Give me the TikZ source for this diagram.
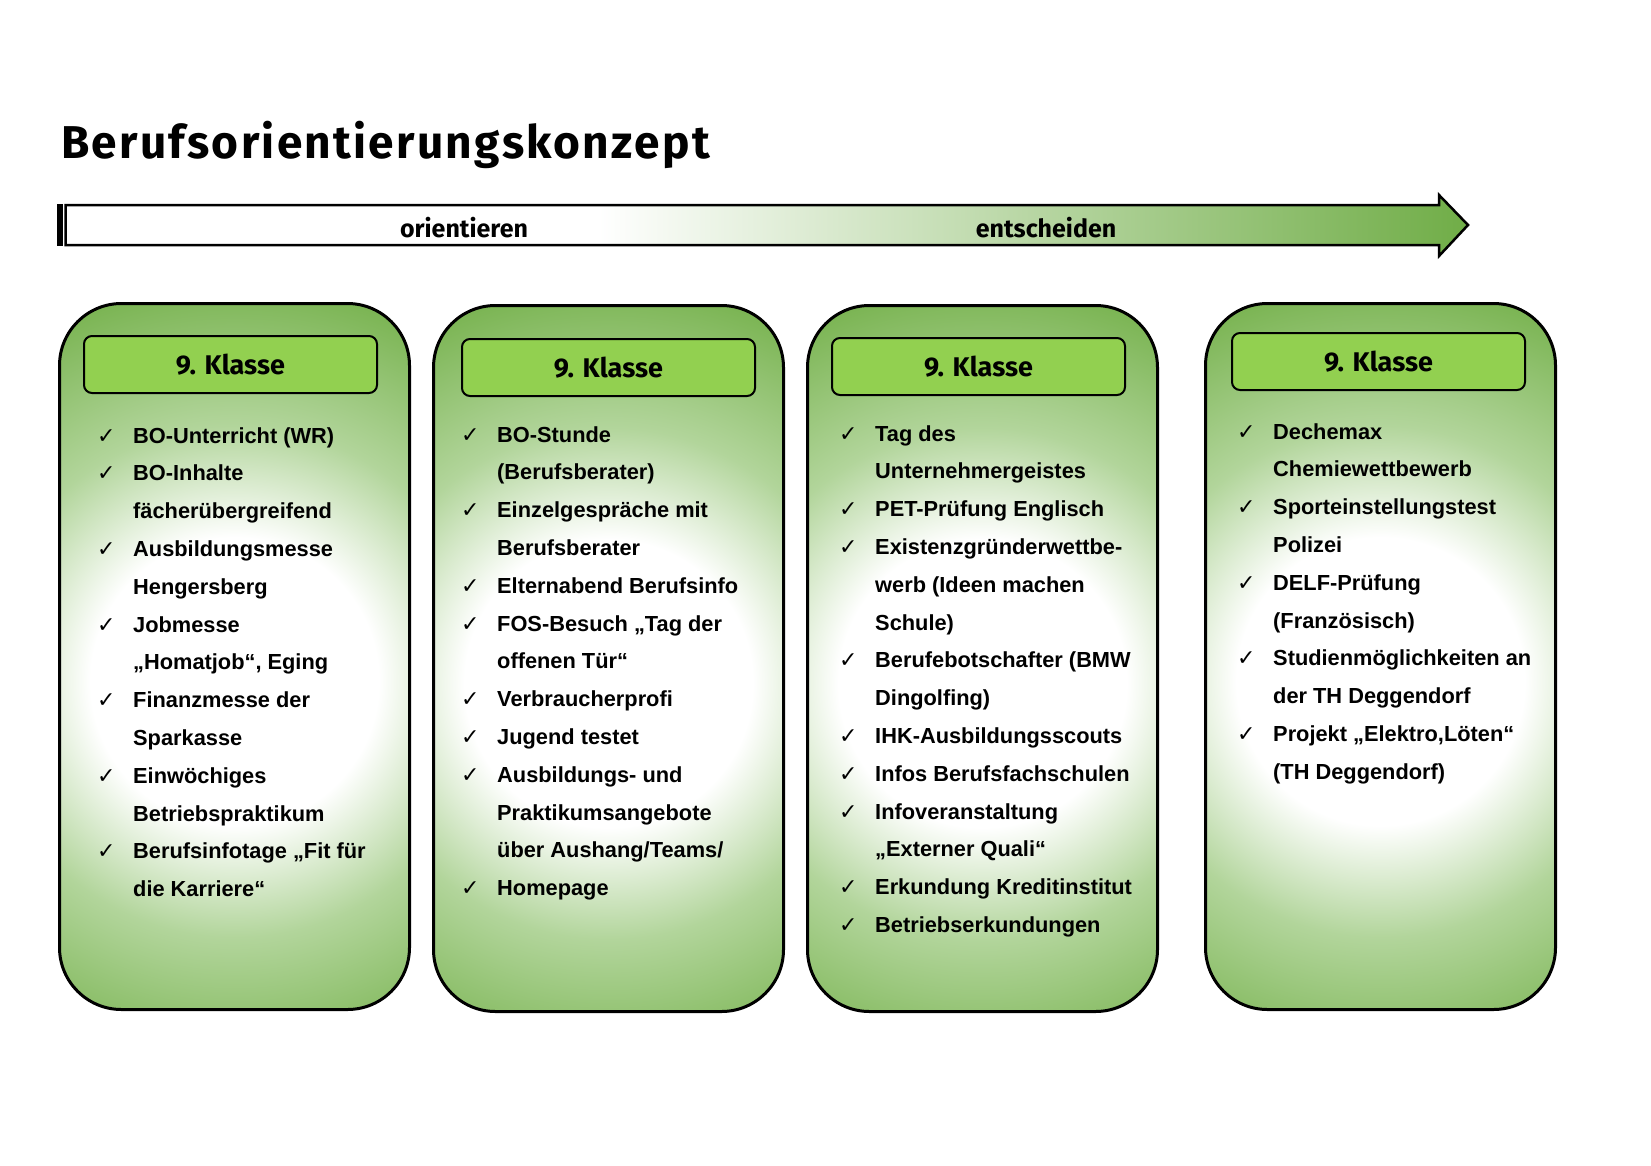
\documentclass[tikz,border=0pt]{standalone}
\usepackage{fontspec}
\setmainfont{Liberation Sans}
\newfontfamily\handfont{Fira Sans}
\newfontfamily\titelfont[LetterSpace=5]{Fira Sans}
\newfontfamily\symfont{DejaVu Sans}
\usepackage{xcolor}
\usetikzlibrary{positioning}

\definecolor{kopfgruen}{RGB}{146,208,80}
\definecolor{randgruen}{RGB}{122,180,82}
\definecolor{mittelgruen}{RGB}{178,213,155}
\definecolor{pfeilgruen}{RGB}{112,173,71}

% Verlauf der Spalten und des Pfeils
\pgfdeclareradialshading{spaltenverlauf}{\pgfpoint{0bp}{0bp}}{color(0bp)=(white); color(9bp)=(white); color(16bp)=(mittelgruen); color(25bp)=(randgruen); color(50bp)=(randgruen)}
\pgfdeclarehorizontalshading{pfeilverlauf}{100bp}{color(0bp)=(white); color(44bp)=(white); color(75bp)=(pfeilgruen); color(100bp)=(pfeilgruen)}

\newcommand{\hk}{{\symfont\fontsize{22}{22}\selectfont ✓}}

\tikzset{
  spaltenbox/.style={draw=black, line width=3pt, rounded corners=62pt,
    path picture={\shade[shading=spaltenverlauf] ([shift={(-400pt,-425pt)}]path picture bounding box.center) rectangle ++(800pt,800pt);},
    minimum width=350pt, minimum height=706pt, anchor=north west, inner sep=0pt},
  kopf/.style={draw=black, line width=2pt, rounded corners=8pt, fill=kopfgruen,
    minimum width=293pt, minimum height=57pt, anchor=north west, inner sep=0pt,
    font=\handfont\bfseries\fontsize{27}{27}\selectfont},
  liste/.style={anchor=base west, inner sep=0pt, font=\bfseries\fontsize{21.8}{37.8}\selectfont},
  pfeiltext/.style={font=\handfont\bfseries\fontsize{25}{25}\selectfont}
}

\begin{document}
\begin{tikzpicture}[x=1pt, y=-1pt]
  \useasboundingbox (0,0) rectangle (1651,1165);

  \node[anchor=base west, inner sep=0pt, font=\titelfont\bfseries\fontsize{46}{46}\selectfont] (titel) at (61,158) {Berufsorientierungskonzept};

  % Zeitpfeil
  \shade[shading=pfeilverlauf, draw=black, line width=2.5pt, line join=miter]
    (65.5,205) -- (1439,205) -- (1439,195) -- (1468,225) -- (1439,256) -- (1439,245) -- (65.5,245) -- cycle;
  \fill[black] (57,204) rectangle (62.5,246);
  \node[pfeiltext] (orientieren) at (464,228) {orientieren};
  \node[pfeiltext] (entscheiden) at (1046,228) {entscheiden};

  % Spalten
  \node[spaltenbox] (spalte1) at (58,302) {};
  \node[spaltenbox] (spalte2) at (432,304) {};
  \node[spaltenbox] (spalte3) at (806,304) {};
  \node[spaltenbox] (spalte4) at (1204,302) {};

  \node[kopf] (kopf1) at (83,335) {9. Klasse};
  \node[kopf] (kopf2) at (461,338) {9. Klasse};
  \node[kopf] (kopf3) at (831,337) {9. Klasse};
  \node[kopf] (kopf4) at (1231,332) {9. Klasse};

  \node[liste] (liste1) at (97,443) {\begin{tabular}[t]{@{}p{36pt}@{}l@{}}
    \hk & BO-Unterricht (WR)\\
    \hk & BO-Inhalte\\
        & fächerübergreifend\\
    \hk & Ausbildungsmesse\\
        & Hengersberg\\
    \hk & Jobmesse\\
        & „Homatjob“, Eging\\
    \hk & Finanzmesse der\\
        & Sparkasse\\
    \hk & Einwöchiges\\
        & Betriebspraktikum\\
    \hk & Berufsinfotage „Fit für\\
        & die Karriere“
  \end{tabular}};

  \node[liste] (liste2) at (461,442) {\begin{tabular}[t]{@{}p{36pt}@{}l@{}}
    \hk & BO-Stunde\\
        & (Berufsberater)\\
    \hk & Einzelgespräche mit\\
        & Berufsberater\\
    \hk & Elternabend Berufsinfo\\
    \hk & FOS-Besuch „Tag der\\
        & offenen Tür“\\
    \hk & Verbraucherprofi\\
    \hk & Jugend testet\\
    \hk & Ausbildungs- und\\
        & Praktikumsangebote\\
        & über Aushang/Teams/\\
    \hk & Homepage
  \end{tabular}};

  \node[liste] (liste3) at (839,441) {\begin{tabular}[t]{@{}p{36pt}@{}l@{}}
    \hk & Tag des\\
        & Unternehmergeistes\\
    \hk & PET-Prüfung Englisch\\
    \hk & Existenzgründerwettbe-\\
        & werb (Ideen machen\\
        & Schule)\\
    \hk & Berufebotschafter (BMW\\
        & Dingolfing)\\
    \hk & IHK-Ausbildungsscouts\\
    \hk & Infos Berufsfachschulen\\
    \hk & Infoveranstaltung\\
        & „Externer Quali“\\
    \hk & Erkundung Kreditinstitut\\
    \hk & Betriebserkundungen
  \end{tabular}};

  \node[liste] (liste4) at (1237,439) {\begin{tabular}[t]{@{}p{36pt}@{}l@{}}
    \hk & Dechemax\\
        & Chemiewettbewerb\\
    \hk & Sporteinstellungstest\\
        & Polizei\\
    \hk & DELF-Prüfung\\
        & (Französisch)\\
    \hk & Studienmöglichkeiten an\\
        & der TH Deggendorf\\
    \hk & Projekt „Elektro,Löten“\\
        & (TH Deggendorf)
  \end{tabular}};
\end{tikzpicture}
\end{document}
